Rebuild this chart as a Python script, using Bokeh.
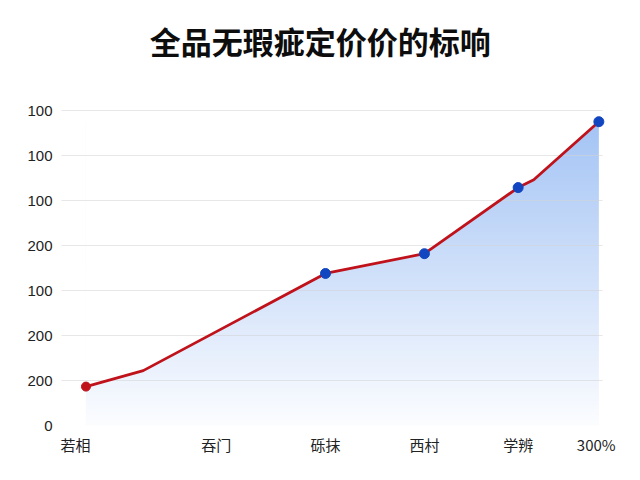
import numpy as np
from bokeh.plotting import figure
from bokeh.models import Range1d, FixedTicker, Label
from bokeh.embed import file_html
from bokeh.resources import INLINE

title_text = "全品无瑕疵定价价的标响"
x_vals = [2, 13, 48, 67, 85, 88, 100.5]
y_vals = [173, 244, 676, 764, 1058, 1093, 1351]
dot_idx = [2, 3, 4, 6]
x_tick_pos = [0, 27, 48, 67, 85, 100]
x_tick_labels = ["若相", "吞门", "砾抹", "西村", "学辨", "300%"]
y_tick_pos = [0, 200, 400, 600, 800, 1000, 1200, 1400]
y_tick_labels = ["0", "200", "200", "100", "200", "100", "100", "100"]

# the frame reaches the top of the canvas so that the title can sit inside it
p = figure(width=640, height=480, output_backend="svg", toolbar_location=None,
           x_range=Range1d(-2.7, 101.2), y_range=Range1d(0, 1890),
           min_border_left=61, min_border_right=38, min_border_bottom=55,
           min_border_top=0)
p.outline_line_color = None
p.background_fill_color = "white"
p.border_fill_color = "white"

title = Label(x=47.0, y=1712, text=title_text, text_align="center",
              text_baseline="middle", text_font="Noto Sans CJK SC",
              text_font_style="bold", text_font_size="31px", text_color="#0d0d0d")
p.add_layout(title)

# gradient fill under the line
n = 256
t = np.linspace(0, 1, n)[:, None]
bottom = np.array([252, 253, 255])
top = np.array([164, 196, 245])
rgb = (bottom + (top - bottom) * t).astype(np.uint8)
img = np.empty((n, 2), dtype=np.uint32)
view = img.view(dtype=np.uint8).reshape((n, 2, 4))
view[:, :, 0] = rgb[:, 0:1]
view[:, :, 1] = rgb[:, 1:2]
view[:, :, 2] = rgb[:, 2:3]
view[:, :, 3] = 255
ymax = max(y_vals)
p.image_rgba(image=[img], x=x_vals[0], y=0, dw=x_vals[-1] - x_vals[0], dh=ymax)
p.varea(x=x_vals, y1=y_vals, y2=[ymax * 1.05] * len(x_vals), fill_color="white")

p.xgrid.grid_line_color = None
p.ygrid.ticker = FixedTicker(ticks=y_tick_pos)
p.ygrid.grid_line_color = "#d4d4d4"
p.ygrid.grid_line_alpha = 0.55
p.ygrid.level = "guide"

r1 = p.line(x_vals, y_vals, line_color="#c0121b", line_width=2.8)
r2 = p.scatter([x_vals[i] for i in dot_idx], [y_vals[i] for i in dot_idx],
               size=10, fill_color="#1246c0", line_color="#1246c0")
r3 = p.scatter([x_vals[0]], [y_vals[0]], size=9, fill_color="#c0121b", line_color="#c0121b")
for r in (r1, r2, r3):
    r.level = "annotation"

p.xaxis.ticker = FixedTicker(ticks=x_tick_pos)
p.xaxis.major_label_overrides = dict(zip(x_tick_pos, x_tick_labels))
p.yaxis.ticker = FixedTicker(ticks=y_tick_pos)
p.yaxis.major_label_overrides = dict(zip(y_tick_pos, y_tick_labels))
for ax in (p.xaxis[0], p.yaxis[0]):
    ax.axis_line_color = None
    ax.major_tick_line_color = None
    ax.minor_tick_line_color = None
    ax.major_tick_out = 0
    ax.major_tick_in = 0
    ax.major_label_text_color = "#222222"
    ax.major_label_text_font_size = "15px"
p.xaxis.major_label_text_font = "Noto Sans CJK SC"
p.yaxis.major_label_text_font = "Liberation Sans"
p.xaxis.major_label_standoff = 8
p.yaxis.major_label_standoff = 9

open("out.html", "w").write(file_html(p, INLINE))
